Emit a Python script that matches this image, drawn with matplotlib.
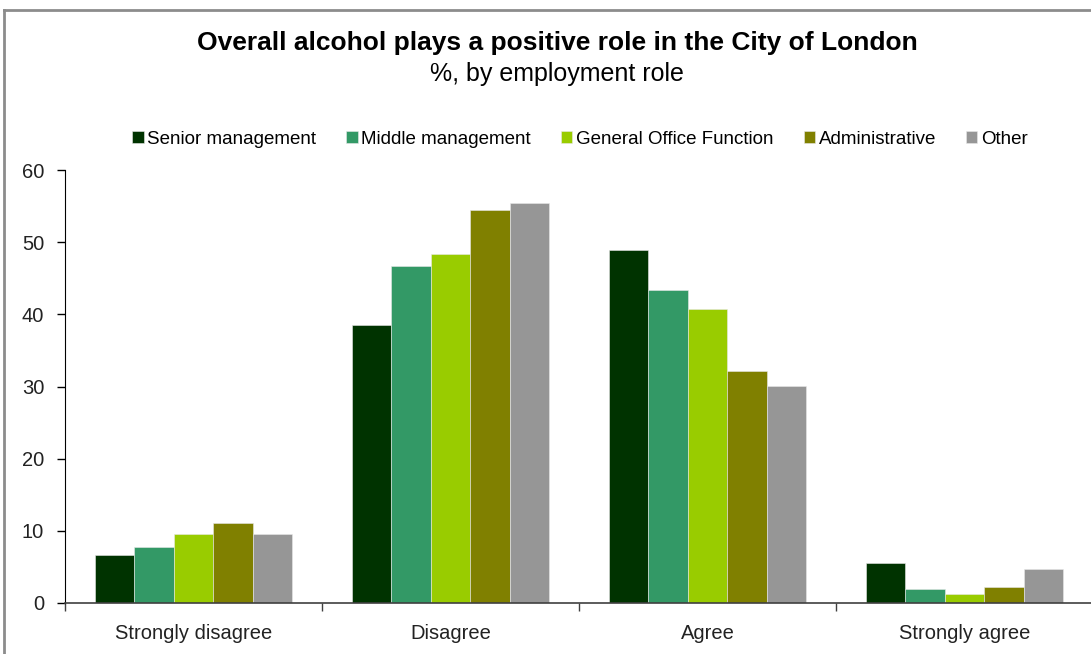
import matplotlib.pyplot as plt
import numpy as np
from matplotlib.lines import Line2D

plt.rcParams['font.family'] = ['Liberation Sans', 'DejaVu Sans']

categories = ['Strongly disagree', 'Disagree', 'Agree', 'Strongly agree']
roles = ['Senior management', 'Middle management', 'General Office Function',
         'Administrative', 'Other']
senior = [6.6, 38.5, 48.9, 5.6]
middle = [7.7, 46.7, 43.4, 1.9]
general = [9.6, 48.4, 40.7, 1.2]
admin = [11.1, 54.4, 32.2, 2.2]
other = [9.5, 55.4, 30.1, 4.7]
colors = ['#003300', '#339966', '#99CC00', '#808000', '#969696']

series = [senior, middle, general, admin, other]

fig = plt.figure(figsize=(10.91, 6.54), dpi=100)
ax = fig.add_axes([65 / 1091, 1 - 603 / 654, 1028 / 1091, 433 / 654])

x = np.arange(len(categories))
w = 0.77 / len(series)
for i, (vals, c, name) in enumerate(zip(series, colors, roles)):
    ax.bar(x - 0.385 + w * (i + 0.5), vals, w, color=c, label=name,
           edgecolor='#e8e8e8', linewidth=0.4)

ax.set_xlim(-0.5, len(categories) - 0.5)
ax.set_ylim(0, 60)
ax.set_yticks(range(0, 61, 10))
ax.tick_params(axis='y', labelsize=14.5, length=6, width=1, pad=9,
               labelcolor='#222222')
ax.set_xticks(x)
ax.set_xticklabels(categories)
ax.set_xticks(np.arange(len(categories) + 1) - 0.5, minor=True)
ax.tick_params(axis='x', which='major', length=0, labelsize=14.5, pad=15,
               labelcolor='#222222')
ax.tick_params(axis='x', which='minor', length=6, width=1, color='#404040')

for s in ['top', 'right']:
    ax.spines[s].set_visible(False)
ax.spines['left'].set_color('#000000')
ax.spines['bottom'].set_color('#404040')
ax.spines['bottom'].set_linewidth(1.2)

fig.text(557 / 1091, 1 - 43 / 654, 'Overall alcohol plays a positive role in the City of London',
         ha='center', va='center', fontsize=19, fontweight='bold')
fig.text(557 / 1091, 1 - 74 / 654, '%, by employment role',
         ha='center', va='center', fontsize=18)

fig.legend(loc='center', bbox_to_anchor=(580 / 1091, 1 - 139 / 654), ncol=5,
           frameon=False, fontsize=13.5, handlelength=0.6, handleheight=0.6,
           handletextpad=0.2, columnspacing=1.6)

# chart area border
fig.add_artist(Line2D([4 / 1091, 4 / 1091], [0, 1 - 10 / 654],
                      transform=fig.transFigure, color='#8c8c8c', lw=2))
fig.add_artist(Line2D([4 / 1091, 1], [1 - 10 / 654, 1 - 10 / 654],
                      transform=fig.transFigure, color='#8c8c8c', lw=2))

fig.savefig('out.png', dpi=100)
